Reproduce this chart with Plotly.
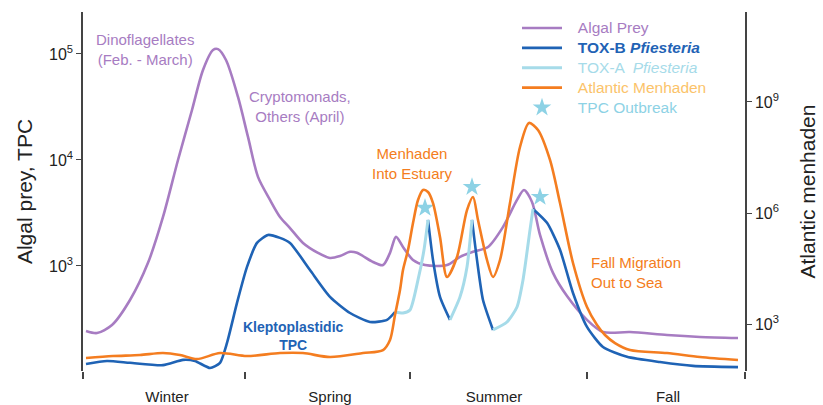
import plotly.graph_objects as go

# ---------------- data (time in arbitrary units across the year) ----------------
seasons = ["Winter", "Spring", "Summer", "Fall"]
season_centers = [167, 330, 494, 668]
season_bounds = [83, 245, 410, 587, 745]

algal_t = [86, 97, 112, 130, 148, 163, 178, 192, 203, 213, 218, 226, 238, 248, 258,
           270, 280, 290, 303, 318, 330, 340, 350, 357, 373, 383, 390, 396, 403, 413,
           425, 447, 460, 473, 488, 503, 517, 524, 532, 540, 553, 567, 587, 603, 630,
           667, 700, 738]
algal = [244, 233, 277, 477, 1070, 2900, 10000, 29600, 70600, 109000, 111000, 87700,
         39300, 16500, 6920, 4200, 2900, 2280, 1650, 1330, 1190, 1240, 1360, 1330, 1090,
         1020, 1330, 1880, 1510, 1140, 1020, 1020, 1220, 1360, 1510, 2330, 4200, 5210,
         4020, 1960, 860, 520, 310, 238, 238, 223, 214, 209]

toxb_t = [86, 107, 130, 163, 183, 195, 210, 220, 227, 237, 247, 257, 268, 280, 290, 310,
          330, 350, 370, 387, 395, 411, 428, 433, 440, 450, 461, 472, 477, 483, 493, 513,
          533, 547, 560, 573, 587, 603, 627, 660, 693, 738]
toxb = [119, 127, 122, 116, 130, 127, 109, 122, 188, 448, 979, 1650, 1960, 1840, 1650,
        916, 511, 360, 296, 310, 368, None, 2720, 1140, 511, 310, None, 2720, 1140, 477,
        249, None, 3450, 2550, 1420, 556, 266, 172, 139, 124, 114, 111]

toxa_t = [395, 403, 410, 418, 424, 428, 439, 450, 460, 467, 472, 482, 493, 507, 517, 523,
          530, 533]
toxa = [368, 360, 384, 738, 1420, 2720, None, 310, 511, 979, 2720, None, 249, 296, 410,
        738, 2190, 3450]

menh_t = [86, 113, 140, 163, 180, 197, 220, 247, 280, 303, 330, 363, 383, 390, 395, 400,
          403, 408, 413, 418, 423, 428, 433, 440, 447, 457, 467, 473, 478, 487, 493, 500,
          510, 520, 529, 538, 550, 560, 573, 587, 597, 605, 615, 630, 667, 700, 738]
menh = [121, 136, 145, 164, 145, 113, 164, 136, 164, 164, 128, 164, 198, 370, 1750, 8300,
        28800, 1e5, 5.37e5, 2.24e6, 4.19e6, 3.7e6, 1.86e6, 2.24e5, 18600, 64700, 1.2e6,
        2.71e6, 6.47e5, 53700, 18600, 53700, 1.86e6, 6.08e7, 2.71e8, 1.75e8, 2.71e7,
        1.86e6, 44600, 2880, 940, 505, 306, 198, 164, 128, 106]

star_t = [425, 472, 540]
star_v = [3530, 5560, 4480]

left_ticks = [1e3, 1e4, 1e5]
left_ticktext = ["10<sup>3</sup>", "10<sup>4</sup>", "10<sup>5</sup>"]
right_ticks = [1e3, 1e6, 1e9]
right_ticktext = ["10<sup>3</sup>", "10<sup>6</sup>", "10<sup>9</sup>"]

# ---------------- styles ----------------
PURPLE = "#a77cc2"
DBLUE = "#1f63b5"
LBLUE = "#a6dbe9"
ORANGE = "#f47d20"
STAR = "#8dd2e5"
LORANGE = "#fbc36a"
TXT = "Liberation Sans, Arial, sans-serif"
COND = "Liberation Sans Narrow, Arial Narrow, Liberation Sans, sans-serif"


def py(p):
    return 1 - (p - 12) / 359.0


def lg(color, text):
    return f"<span style='color:{color};font-size:15.5px'>\u2002\u2009{text}</span>"


fig = go.Figure()
fig.add_trace(go.Scatter(
    x=algal_t, y=algal, mode="lines", legendrank=1,
    name=lg(PURPLE, "Algal Prey"),
    line=dict(color=PURPLE, width=2.6, shape="spline", smoothing=0.8)))
fig.add_trace(go.Scatter(
    x=toxb_t, y=toxb, mode="lines", legendrank=2, connectgaps=False,
    name=lg(DBLUE, "<b>TOX-B <i>Pfiesteria</i></b>"),
    line=dict(color=DBLUE, width=2.6, shape="spline", smoothing=0.6)))
fig.add_trace(go.Scatter(
    x=toxa_t, y=toxa, mode="lines", legendrank=3, connectgaps=False,
    name=lg(LBLUE, "TOX-A  <i>Pfiesteria</i>"),
    line=dict(color=LBLUE, width=3, shape="spline", smoothing=0.6)))
fig.add_trace(go.Scatter(
    x=menh_t, y=menh, mode="lines", legendrank=4, yaxis="y2",
    name=lg(LORANGE, "Atlantic Menhaden"),
    line=dict(color=ORANGE, width=2.6, shape="spline", smoothing=0.8)))
fig.add_trace(go.Scatter(
    x=star_t, y=star_v, mode="markers", legendrank=5,
    name=lg(STAR, "TPC Outbreak"),
    marker=dict(symbol="star", size=14, color=STAR, line=dict(width=0))))

annos = [
    dict(text="Dinoflagellates<br>(Feb. - March)", x=145, y=py(50), color=PURPLE, size=15),
    dict(text="Cryptomonads,<br>Others (April)", x=300, y=py(106), color=PURPLE, size=15),
    dict(text="Menhaden<br>Into Estuary", x=412, y=py(163), color=ORANGE, size=15),
    dict(text="<b>Kleptoplastidic<br>TPC</b>", x=293, y=py(336), color=DBLUE, size=14),
]
for a in annos:
    fig.add_annotation(text=a["text"], x=a["x"], y=a["y"], xref="x", yref="paper",
                       showarrow=False, xanchor="center", yanchor="middle",
                       font=dict(family=TXT, size=a["size"], color=a["color"]))
fig.add_annotation(text="Fall Migration<br>Out to Sea", x=589, y=py(272), xref="x",
                   yref="paper", showarrow=False, xanchor="left", yanchor="middle",
                   align="left", font=dict(family=TXT, size=15, color=ORANGE))

fig.update_layout(
    width=823, height=405,
    margin=dict(l=83, r=78, t=12, b=34, autoexpand=False),
    paper_bgcolor="white", plot_bgcolor="white",
    font=dict(family=TXT, color="#222"),
    showlegend=True,
    legend=dict(x=(517 - 83) / 662.0, y=py(13), xanchor="left", yanchor="top",
                bgcolor="rgba(0,0,0,0)", font=dict(family=TXT, size=13),
                itemwidth=40, tracegroupgap=0),
    xaxis=dict(range=[83, 745], showgrid=False, zeroline=False, showline=False,
               automargin=False,
               tickmode="array", tickvals=season_centers, ticktext=seasons,
               ticks="outside", ticklen=12, tickcolor="rgba(0,0,0,0)",
               tickfont=dict(family=COND, size=15, color="#222"),
               minor=dict(tickmode="array", tickvals=season_bounds, ticks="outside",
                          ticklen=7, tickwidth=1.5, tickcolor="#444")),
    yaxis=dict(type="log", range=[2.009, 5.396], showgrid=False, zeroline=False,
               showline=True, linecolor="#444", linewidth=1.5, automargin=False,
               tickmode="array", tickvals=left_ticks, ticktext=left_ticktext,
               ticks="outside", ticklen=5, tickcolor="#444",
               tickfont=dict(family=COND, size=16, color="#222"),
               title=dict(text="Algal prey, TPC", standoff=11,
                          font=dict(family=COND, size=21, color="#222"))),
    yaxis2=dict(type="log", range=[1.730, 11.432], overlaying="y", side="right",
                showgrid=False, zeroline=False, showline=True, linecolor="#444",
                linewidth=1.5, automargin=False, tickmode="array", tickvals=right_ticks,
                ticktext=right_ticktext, ticks="outside", ticklen=5, tickcolor="#444",
                tickfont=dict(family=COND, size=16, color="#222"),
                title=dict(text="Atlantic menhaden", standoff=22,
                           font=dict(family=COND, size=21, color="#222"))),
)

fig.write_html("out.html", config={"displayModeBar": False},
               post_script="document.body.style.margin='0px';")
